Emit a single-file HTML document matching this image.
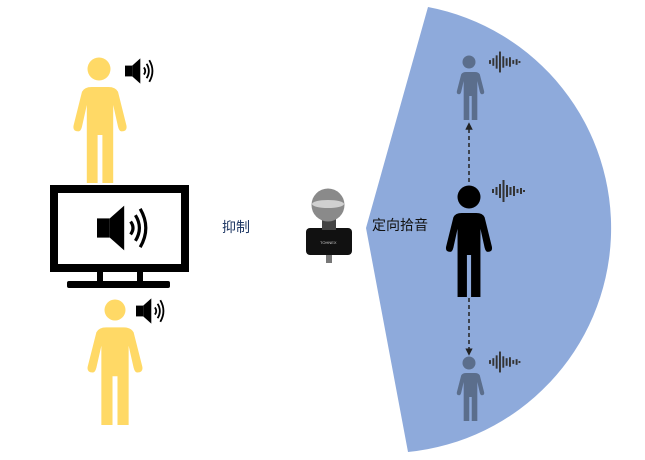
<!DOCTYPE html>
<html><head><meta charset="utf-8"><style>
html,body{margin:0;padding:0;background:#fff;}
svg{display:block;}
text{font-family:"Liberation Sans","Noto Sans CJK SC",sans-serif;}
</style></head><body>
<svg width="645" height="460" viewBox="0 0 645 460" xmlns="http://www.w3.org/2000/svg">
<defs>
<symbol id="p" viewBox="0 0 50 100" preserveAspectRatio="none">
<path d="M10,24 Q12,20 18,20 L32,20 Q38,20 40,24 L47,52 Q48,57 43,57 Q41,57 40,53 L36,35 L36,100 L27,100 L27,60 L23,60 L23,100 L14,100 L14,35 L10,53 Q9,57 7,57 Q2,57 3,52 Z"/>
</symbol>
<marker id="ah" viewBox="0 0 10 10" refX="5" refY="5" markerWidth="5" markerHeight="5" orient="auto"><path d="M0,0 L10,5 L0,10 Z" fill="#222"/></marker>
<g id="wave" stroke="#333" stroke-width="2">
<line x1="0" y1="-2" x2="0" y2="2"/><line x1="3.5" y1="-4" x2="3.5" y2="4"/><line x1="7" y1="-7" x2="7" y2="7"/><line x1="10.5" y1="-11" x2="10.5" y2="11"/><line x1="14" y1="-6" x2="14" y2="6"/><line x1="17.5" y1="-4" x2="17.5" y2="4"/><line x1="21" y1="-5" x2="21" y2="5"/><line x1="24.5" y1="-2" x2="24.5" y2="2"/><line x1="28" y1="-3" x2="28" y2="3"/><line x1="31" y1="-1" x2="31" y2="1"/>
</g>
<g id="spk">
<rect x="0" y="-6" width="8" height="12"/>
<path d="M8,-6 L17,-14 L17,14 L8,6 Z"/>
<path d="M21,-4 Q24,0 21,4" fill="none" stroke="#000" stroke-width="2"/>
<path d="M24,-8 Q29,0 24,8" fill="none" stroke="#000" stroke-width="2"/>
<path d="M27,-12 Q34,0 27,12" fill="none" stroke="#000" stroke-width="2"/>
</g>
</defs>

<path d="M428,7 L366,228 L408,452 A225 225 0 0 0 428,7 Z" fill="#8EAADB"/>

<g fill="#FFD966">
<circle cx="99" cy="69" r="11.5"/>
<use href="#p" x="70" y="63" width="60" height="120"/>
<circle cx="115" cy="310" r="10.5"/>
<use href="#p" x="84" y="303" width="62" height="122"/>
</g>
<g fill="#000"><use href="#spk" transform="translate(125,71) scale(0.9)"/>
<use href="#spk" transform="translate(136,311) scale(0.9)"/></g>

<rect x="54" y="189" width="131" height="79" fill="#fff" stroke="#000" stroke-width="8"/>
<rect x="97" y="270" width="6" height="12"/>
<rect x="137" y="270" width="6" height="12"/>
<rect x="67" y="281" width="103" height="7" rx="2"/>
<g fill="#000"><use href="#spk" transform="translate(97,228) scale(1.6)"/></g>

<text x="222" y="232" font-size="14" fill="#1F3864">抑制</text>

<rect x="326" y="252" width="6" height="11" fill="#777"/>
<rect x="306" y="228" width="46" height="27" rx="4" fill="#111"/>
<rect x="322" y="218" width="14" height="12" fill="#444"/>
<circle cx="328" cy="205" r="16.5" fill="#8a8a8a"/>
<ellipse cx="328" cy="204" rx="16" ry="4" fill="#d0d0d0"/>
<text x="320" y="244" font-size="4" fill="#ccc">TOHNEX</text>

<text x="372" y="230" font-size="14" fill="#111">定向拾音</text>

<circle cx="469" cy="197" r="11.5" fill="#000"/>
<use href="#p" x="443" y="192" width="52" height="105" fill="#000"/>
<use href="#wave" transform="translate(493,191)"/>

<g fill="#5B6E8C">
<circle cx="469" cy="62" r="6.5"/>
<use href="#p" x="455" y="60" width="31" height="60"/>
<circle cx="469" cy="363" r="6.5"/>
<use href="#p" x="455" y="361" width="31" height="60"/>
</g>
<use href="#wave" transform="translate(490,62) scale(0.95)"/>
<use href="#wave" transform="translate(490,362) scale(0.95)"/>

<line x1="469" y1="182" x2="469" y2="126" stroke="#222" stroke-width="1.5" stroke-dasharray="4,3" marker-end="url(#ah)"/>
<line x1="469" y1="298" x2="469" y2="352" stroke="#222" stroke-width="1.5" stroke-dasharray="4,3" marker-end="url(#ah)"/>
</svg>
</body></html>
